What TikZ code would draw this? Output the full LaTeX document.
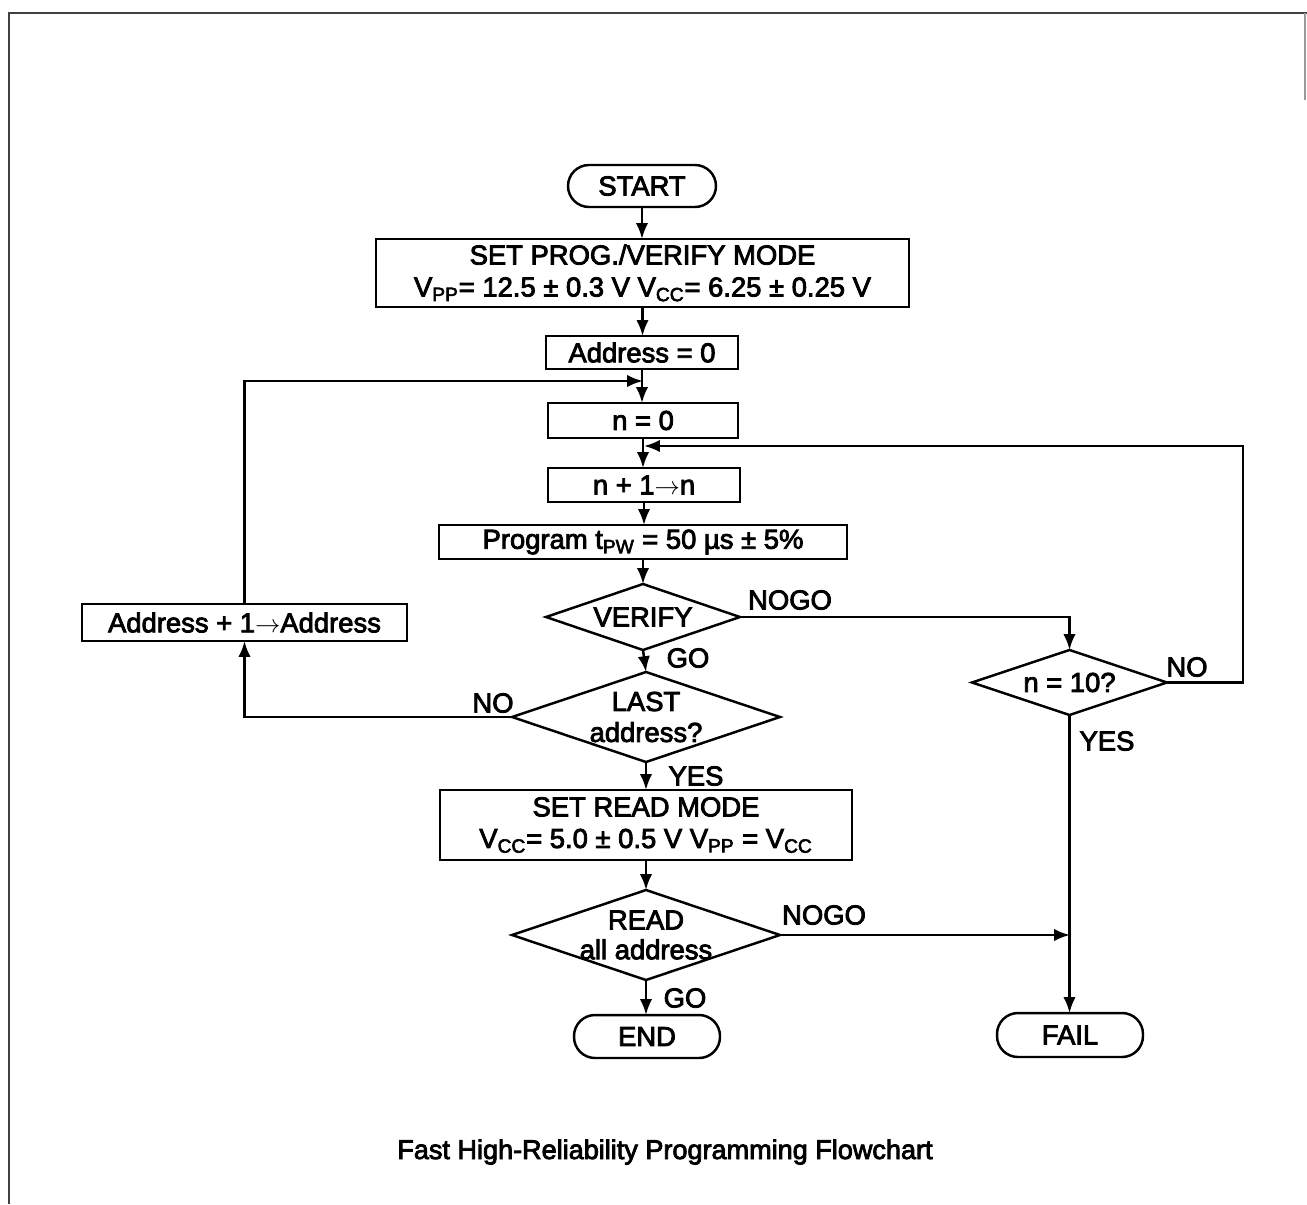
\documentclass[tikz,border=0pt]{standalone}
\usepackage{fontspec}
\setmainfont{Liberation Sans}[UprightFeatures={FakeBold=3}]
\usetikzlibrary{shapes.geometric,arrows.meta}
\newcommand{\fsmain}{\fontsize{15.6}{18}\selectfont}
\newcommand{\fscap}{\fontsize{15.4}{18}\selectfont}
\tikzset{
  base/.style={draw, line width=1.4pt, font=\fsmain, inner sep=0pt, outer sep=0pt, align=center},
  box/.style={base, rectangle},
  term/.style={base, rectangle, rounded corners=0.42cm},
  dia/.style={draw, line width=1.4pt, diamond, inner sep=0pt, outer sep=0pt},
  dlab/.style={font=\fsmain, inner sep=0pt, align=center},
  lab/.style={font=\fsmain, inner sep=0pt},
  conn/.style={line width=1.4pt, -{Latex[length=9pt,width=7pt]}},
  frame/.style={line width=1.6pt, draw=black!75},
}
\begin{document}
\begin{tikzpicture}[x=0.02cm, y=-0.02cm]
\useasboundingbox (0,0) rectangle (1307,1204);
% frame
\draw[frame] (9,1204) -- (9,13) -- (1307,13);
\draw[frame, draw=black!40, line width=0.8pt] (1305,13) -- (1305,100);

% nodes
\node[term, minimum width=2.96cm, minimum height=0.84cm] (start) at (642,186) {START};
\node[box, minimum width=10.66cm, minimum height=1.36cm, font={\fontsize{15.6}{18.2}\selectfont}] (prog) at (642.5,273)
  {SET PROG./VERIFY MODE\\V\textsubscript{PP}= 12.5 ± 0.3 V V\textsubscript{CC}= 6.25 ± 0.25 V};
\node[box, minimum width=3.84cm, minimum height=0.66cm] (addr0) at (642,352.5) {Address = 0};
\node[box, minimum width=3.8cm, minimum height=0.7cm] (n0) at (643,420.5) {n = 0};
\node[box, minimum width=3.84cm, minimum height=0.68cm] (inc) at (644,485) {n + 1$\rightarrow$n};
\node[box, minimum width=8.16cm, minimum height=0.68cm] (prg) at (643,542) {Program t\textsubscript{PW} = 50 µs ± 5\%};
\node[dia, minimum width=3.88cm, minimum height=1.32cm,
  label={[dlab]center:VERIFY}] (ver) at (643,617) {};
\node[dia, minimum width=5.36cm, minimum height=1.8cm,
  label={[dlab, font={\fontsize{15.6}{17.6}\selectfont}]center:{LAST\\address?}}] (last) at (646,717) {};
\node[box, minimum width=8.24cm, minimum height=1.4cm, font={\fontsize{15.6}{18}\selectfont}] (rmode) at (646,825)
  {SET READ MODE\\V\textsubscript{CC}= 5.0 ± 0.5 V V\textsubscript{PP} = V\textsubscript{CC}};
\node[dia, minimum width=5.36cm, minimum height=1.8cm,
  label={[dlab, font={\fontsize{15.6}{17}\selectfont}]center:{READ\\all address}}] (readall) at (646,935) {};
\node[term, minimum width=2.92cm, minimum height=0.86cm] (end) at (647,1036.5) {END};
\node[dia, minimum width=3.9cm, minimum height=1.3cm,
  label={[dlab]center:{n = 10?}}] (n10) at (1069.5,682.5) {};
\node[term, minimum width=2.92cm, minimum height=0.88cm] (fail) at (1070,1035) {FAIL};
\node[box, minimum width=6.5cm, minimum height=0.74cm] (addr1) at (244.5,622.5) {Address + 1$\rightarrow$Address};

% junction points
\coordinate (j1) at (643,381);
\coordinate (j2) at (644,446);
\coordinate (r2) at (1243,446);
\coordinate (j3) at (1070,935);

% connectors
\draw[conn] (start.south) -- (prog.north -| start.south);
\draw[conn] (prog.south) -- (addr0.north -| prog.south);
\draw[conn] (addr0.south) -- (n0.north -| addr0.south);
\draw[conn] (addr1.north) |- (j1);
\draw[conn] (n0.south) -- (inc.north -| n0.south);
\draw[conn] (n10.east) -| (r2) -- (j2);
\draw[conn] (inc.south) -- (prg.north -| inc.south);
\draw[conn] (prg.south) -- (ver.north);
\draw[conn] (ver.east) -| (n10.north);
\draw[conn] (ver.south) -- (last.north);
\draw[conn] (last.west) -| (addr1.south);
\draw[conn] (last.south) -- (rmode.north -| last.south);
\draw[conn] (rmode.south) -- (readall.north);
\draw[conn] (readall.south) -- (end.north -| readall.south);
\draw[conn] (n10.south) -- (fail.north -| n10.south);
\draw[conn] (readall.east) -- (j3);

% labels
\node[lab] (l1) at (790,600) {NOGO};
\node[lab] (l2) at (688,658) {GO};
\node[lab] (l3) at (493,703) {NO};
\node[lab] (l4) at (696,776) {YES};
\node[lab] (l5) at (824,915) {NOGO};
\node[lab] (l6) at (685,998) {GO};
\node[lab] (l7) at (1187,667) {NO};
\node[lab] (l8) at (1107,741) {YES};

% caption
\node[font=\fscap, inner sep=0pt] (cap) at (665,1152) {Fast High-Reliability Programming Flowchart};
\end{tikzpicture}
\end{document}
